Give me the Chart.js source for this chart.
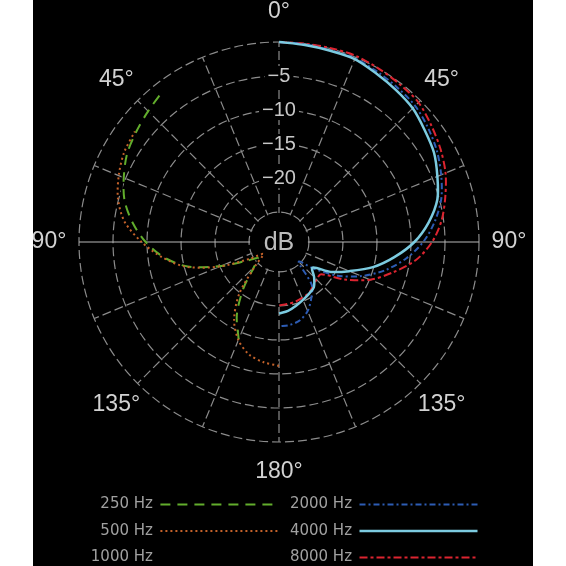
<!DOCTYPE html>
<html>
<head>
<meta charset="utf-8">
<title>Polar pattern</title>
<script src="https://cdn.jsdelivr.net/npm/chart.js@4.4.1/dist/chart.umd.min.js"></script>
<style>
  html, body { margin: 0; padding: 0; background: #fff; overflow: hidden; }
  #wrap { position: absolute; left: 33px; top: 0; width: 500px; height: 575px; background: #000; }
</style>
</head>
<body>
<div id="wrap"><canvas id="polar"></canvas></div>
<script>
/* ── DATA ─────────────────────────────────────────────────── */
const ANGLES = Array.from({ length: 48 }, (_, i) => i * 7.5);   // 7.5° steps, clockwise from front
const ANGLE_TEXT = { 0: '0°', 45: '45°', 90: '90°', 135: '135°', 180: '180°', 225: '135°', 270: '90°', 315: '45°' };
const TICK_VALUES = [-25, -20, -15, -10, -5, 0];
const TICK_LABELS = ['', '\u221220', '\u221215', '\u221210', '\u22125', ''];
const R_MIN = -29.4;   // puts the -25 dB ring at the edge of the "dB" hub

const FREQS = ['250 Hz', '500 Hz', '1000 Hz', '2000 Hz', '4000 Hz', '8000 Hz'];

// right half: 0° → 180° clockwise, dB every 7.5°
const HZ2000 = [0, -0.1, -0.2, -0.2, -0.5, -0.8, -1.1, -1.8, -2.6, -3.6, -4.7, -6.3, -8.2,
                -10.6, -13.3, -16.3, -19.5, -23.0, -25.3, -21.5, -19.9, -18.4, -17.5, -17.1, -17.0];
const HZ4000 = [0, -0.2, -0.3, -0.3, -0.8, -1.2, -1.6, -2.4, -3.1, -4.2, -5.3, -7.2, -9.5,
                -12.3, -15.1, -18.2, -20.6, -23.2, -22.1, -21.0, -20.6, -20.2, -19.7, -19.2, -18.9];
const HZ8000 = [0, 0, 0.1, 0.2, 0, -0.2, -0.4, -1.2, -2.0, -2.9, -4.1, -5.3, -6.9,
                -9.1, -12.1, -14.9, -18.4, -21.6, -21.6, -21.2, -20.7, -20.5, -20.3, -20.2, -20.1];

// left half: 0° → 180° counter-clockwise, dB every 7.5°
const HZ250  = [null, null, null, null, null, -1.4, -2.2, -2.9, -3.6, -4.7, -5.9, -7.7, -9.8,
                -12.3, -15.5, -20.2, -23.8, -25.5, -24.2, -20.8, -17.0, -13.9, null, null, null];
const HZ500  = [null, null, null, null, null, null, null, -2.7, -3.1, -3.9, -4.9, -6.5, -9.2,
                -12.1, -15.3, -20.0, -24.5, -26.5, -24.5, -19.8, -16.2, -13.8, -12.3, -11.6, -11.2];
const HZ1000 = [null, null, null, null, null, -1.8, -2.5, -3.1, -3.7, -4.5, -5.6, -7.3, -9.5,
                -12.2, -15.4, -20.1, -24.1, -25.8, -24.3, -20.2, -16.5, -13.9, -12.6, -12.0, -11.7];

// legend reading order (rtl rows: right item first)
const LEGEND_ORDER = [3, 0, 4, 1, 5, 2];

/* ── HELPERS ──────────────────────────────────────────────── */
function rightHalf(vals) {
  return ANGLES.map((_, i) => (i <= 24 ? vals[i] : null));
}
function leftHalf(vals) {
  return ANGLES.map((_, i) => (i === 0 ? vals[0] : i >= 24 ? vals[48 - i] : null));
}

function series(label, data, color, dash, width, order) {
  return {
    label, data, order,
    borderColor    : color,
    backgroundColor: 'transparent',
    borderDash     : dash,
    borderWidth    : width,
    fill           : false,
    tension        : 0.3,
    pointRadius    : 0,
    spanGaps       : false,
  };
}

/* ── hub + angle labels ───────────────────────────────────── */
const polarDecor = {
  id: 'polarDecor',
  beforeDatasetsDraw(chart) {
    const s   = chart.scales.r;
    const ctx = chart.ctx;
    const hub = s.getDistanceFromCenterForValue(TICK_VALUES[0]);
    ctx.save();
    ctx.fillStyle = '#000';
    ctx.beginPath();
    ctx.arc(s.xCenter, s.yCenter, hub - 1, 0, Math.PI * 2);
    ctx.fill();

    ctx.textAlign    = 'center';
    ctx.textBaseline = 'middle';
    ctx.fillStyle    = '#bcbcbc';
    ctx.font         = '25px "Liberation Sans", Arial, sans-serif';
    ctx.fillText('dB', s.xCenter, s.yCenter + 1);

    ctx.fillStyle = '#d2d2d2';
    ctx.font      = '23px "Liberation Sans", Arial, sans-serif';
    ANGLES.forEach((a, i) => {
      const txt = ANGLE_TEXT[a];
      if (!txt) return;
      const p = s.getPointPosition(i, s.drawingArea + 30);
      ctx.fillText(txt, p.x, p.y);
    });
    ctx.restore();
  }
};

/* ── CHART ────────────────────────────────────────────────── */
new Chart(document.getElementById('polar'), {
  type: 'radar',
  data: {
    labels: ANGLES,
    datasets: [
      series(FREQS[0], leftHalf(HZ250),   '#62ad2c', [10, 7],       2,   4),
      series(FREQS[1], leftHalf(HZ500),   '#c4622a', [2, 3],        2,   3),
      series(FREQS[2], leftHalf(HZ1000),  '#000000', [],            2,   5),
      series(FREQS[3], rightHalf(HZ2000), '#2d5cb4', [6, 3, 2, 3],  2,   1),
      series(FREQS[4], rightHalf(HZ4000), '#7ccbe0', [],            2.5, 0),
      series(FREQS[5], rightHalf(HZ8000), '#dc2430', [8, 3, 3, 3],  2,   2),
    ]
  },
  options: {
    responsive         : true,
    maintainAspectRatio: false,
    animation          : false,
    events             : [],
    layout: { padding: { left: 36, right: 44, top: 0, bottom: 0 } },
    scales: {
      r: {
        min: R_MIN,
        max: 0,
        afterBuildTicks: scale => { scale.ticks = TICK_VALUES.map(v => ({ value: v })); },
        grid  : { circular: true, color: '#8c8c8c', lineWidth: 1.2 },
        border: { dash: [9, 4] },
        angleLines: {
          color      : c => (c.index % 24 === 12 ? '#b8b8b8' : '#8c8c8c'),
          lineWidth  : c => (c.index % 3 === 0 ? 1.2 : 0),
          borderDash : c => (c.index % 24 === 12 ? [] : [9, 4]),
        },
        pointLabels: { display: false },
        ticks: {
          callback         : (v, i) => TICK_LABELS[i],
          color            : '#c8c8c8',
          font             : { family: '"Liberation Sans", Arial, sans-serif', size: 20 },
          backdropColor    : '#000',
          backdropPadding  : { x: 3, y: 0 },
          showLabelBackdrop: c => TICK_LABELS[c.index] !== '',
        }
      }
    },
    plugins: {
      tooltip: { enabled: false },
      legend: {
        position: 'bottom',
        align   : 'start',
        rtl     : true,
        labels: {
          usePointStyle  : true,
          pointStyle     : 'line',
          pointStyleWidth: 118,
          padding        : 11.5,
          color          : '#a0a0a0',
          font           : { family: '"DejaVu Sans", sans-serif', size: 15 },
          sort           : (a, b) => LEGEND_ORDER.indexOf(a.datasetIndex) - LEGEND_ORDER.indexOf(b.datasetIndex),
          generateLabels : chart => Chart.defaults.plugins.legend.labels.generateLabels(chart)
            .map(item => {
              const ds = chart.data.datasets[item.datasetIndex];
              return {
                ...item,
                text       : item.text.padStart(7, '\u2007'),
                strokeStyle: ds.borderColor,
                lineDash   : ds.borderDash,
                lineWidth  : ds.borderWidth,
              };
            }),
        }
      }
    }
  },
  plugins: [polarDecor]
});
</script>
</body>
</html>
